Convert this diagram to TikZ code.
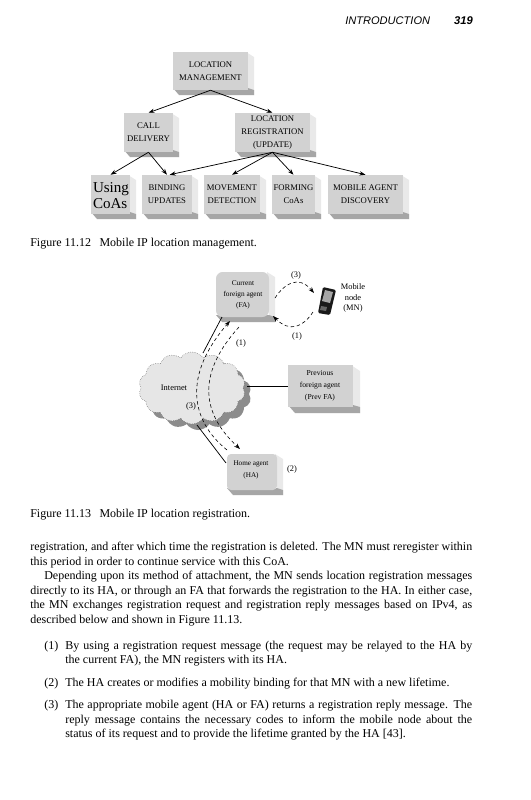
\documentclass[tikz,border=0pt]{standalone}
\usepackage{fontspec}
\setmainfont{Liberation Serif}
\setsansfont{Liberation Sans}
\usetikzlibrary{shapes.symbols,arrows.meta}
\definecolor{face}{HTML}{D2D2D2}
\definecolor{lit}{HTML}{E9E9E9}
\definecolor{dim}{HTML}{A6A6A6}
\definecolor{cloudfill}{HTML}{E6E6E6}
\definecolor{cloudshade}{HTML}{8C8C8C}
\tikzset{
 boxlabel/.style={align=center,font=\fontsize{6.5}{9.5}\selectfont,inner sep=0pt},
 facebox/.style={fill=face,draw=none,inner sep=0pt,boxlabel},
 conn/.style={line width=0.55pt,-{Stealth[length=4.5pt,width=3.2pt]}},
 plainline/.style={line width=0.55pt},
 dashconn/.style={line width=0.45pt,dash pattern=on 2.6pt off 2pt,-{Stealth[length=4.5pt,width=3.2pt]}},
 bodyline/.style={anchor=base west,inner sep=0pt,font=\fontsize{9}{10}\selectfont},
 smalllabel/.style={inner sep=0pt,font=\fontsize{6.3}{7.6}\selectfont,align=center},
}
% name, x1, y1, x2, y2, dx, dy, radius, text
\newcommand{\threeD}[9]{%
 \fill[lit] (#4-2,#3) -- (#4+#6,#3+#7) -- (#4+#6,#5+#7) -- (#4,#5) -- cycle;
 \fill[dim] (#2,#5-2) -- (#4,#5-2) -- (#4+#6,#5) -- (#4+#6,#5+#7) -- (#2+#6,#5+#7) -- cycle;
 \pgfmathsetmacro\bw{(#4-#2)*0.75}\pgfmathsetmacro\bh{(#5-#3)*0.75}
 \node[facebox,rounded corners=#8,minimum width=\bw pt,minimum height=\bh pt] (#1) at ({(#2+#4)/2},{(#3+#5)/2}) {#9};
}
\newcommand{\just}[5]{\node[bodyline] (#1) at (#2,#3) {\makebox[#4][s]{#5}};}
\newcommand{\free}[4]{\node[bodyline] (#1) at (#2,#3) {#4};}
\begin{document}
\begin{tikzpicture}[x=0.75pt,y=-0.75pt]
\useasboundingbox (0,0) rectangle (531,800);
\fill[white] (0,0) rectangle (531,800);
% header
\node[anchor=base west,inner sep=0pt,font=\sffamily\itshape\fontsize{8.3}{10}\selectfont] (hd) at (345,24) {INTRODUCTION};
\node[anchor=base east,inner sep=0pt,font=\sffamily\itshape\bfseries\fontsize{8.4}{10}\selectfont] (pg) at (473,24) {319};
% Figure 11.12
\threeD{lm}{173}{52}{248}{90}{6}{5}{0pt}{LOCATION\\MANAGEMENT}
\threeD{cd}{124}{113}{173}{152}{6}{5}{0pt}{CALL\\DELIVERY}
\threeD{lr}{235}{113}{310}{152}{6}{5}{0pt}{LOCATION\\REGISTRATION\\(UPDATE)}
\threeD{us}{91}{175}{130}{214}{6}{5}{0pt}{}
\threeD{bu}{142}{175}{192}{214}{6}{5}{0pt}{BINDING\\UPDATES}
\threeD{md}{204}{175}{260}{214}{6}{5}{0pt}{MOVEMENT\\DETECTION}
\threeD{fc}{272}{175}{315}{214}{6}{5}{0pt}{FORMING\\CoAs}
\threeD{ma}{328}{175}{403}{214}{6}{5}{0pt}{MOBILE AGENT\\DISCOVERY}
\node[inner sep=0pt,align=left,font=\fontsize{11.3}{11.6}\selectfont] (ust) at (111,195.5) {Using\\CoAs};
\draw[conn] (lm.south) -- (cd.north);
\draw[conn] (lm.south) -- (lr.north);
\draw[conn] (cd.south) -- (us.north);
\draw[conn] (cd.south) -- (bu.north);
\draw[conn] (lr.south) -- ([xshift=2pt]bu.north);
\draw[conn] (lr.south) -- (md.north);
\draw[conn] (lr.south) -- (fc.north);
\draw[conn] (lr.south) -- (ma.north);
\free{capa}{30}{246}{Figure 11.12\hspace{0.7em}Mobile IP location management.}
% Figure 11.13 boxes
\threeD{fa}{216}{272}{269}{317}{6}{5}{5pt}{}
\threeD{pf}{288}{365}{353}{407}{7}{6}{0pt}{}
\threeD{ha}{227}{454}{277}{490}{6}{5}{3pt}{}
\node[smalllabel,font=\fontsize{5.5}{8.2}\selectfont] (fat) at (243,295) {Current\\foreign agent\\(FA)};
\node[smalllabel,font=\fontsize{5.7}{9}\selectfont] (pft) at (320,386) {Previous\\foreign agent\\(Prev FA)};
\node[smalllabel,font=\fontsize{5.4}{8.4}\selectfont] (hat) at (251,470) {Home agent\\(HA)};
% cloud
\node[cloud,cloud puffs=14,cloud puff arc=110,aspect=1.5,fill=cloudshade,draw=none,minimum width=80pt,minimum height=54pt,inner sep=0pt] (cs) at (198,394) {};
\node[cloud,cloud puffs=14,cloud puff arc=110,aspect=1.5,fill=cloudfill,draw=black!70,line width=0.35pt,densely dotted,minimum width=80pt,minimum height=54pt,inner sep=0pt] (cl) at (192,388) {};
\node[smalllabel] (inet) at (174,388) {Internet};
% solid links
\coordinate (faL) at (222,317);
\coordinate (clT) at (203,353);
\coordinate (clB) at (197,425);
\coordinate (haL) at (226,463);
\coordinate (clR) at (247,386);
\draw[plainline] (faL) -- (clT);
\draw[plainline] (clB) -- (haL);
\draw[plainline] (clR) -- (pf.west);
% dashed through cloud
\coordinate (d1a) at (227,450);
\coordinate (d1b) at (230,321);
\coordinate (d2a) at (239,327);
\coordinate (d2b) at (240,449);
\draw[dashconn] (d1a) .. controls (190,420) and (183,375) .. (d1b);
\draw[dashconn] (d2a) .. controls (200,370) and (198,410) .. (d2b);
% phone
\fill[black!90,rounded corners=1pt] (323,287) -- (336,290) -- (330,315) -- (318,313) -- cycle;
\fill[black!35] (325,290) -- (333,292) -- (330,303) -- (322,301) -- cycle;
\fill[black!60] (321,306) -- (327,307) -- (326,311) -- (320,310) -- cycle;
\coordinate (mnIn) at (314,293);
\coordinate (mnOut) at (313,312);
\coordinate (faR) at (275,298);
\coordinate (faRb) at (273,316);
\draw[dashconn] (faR) .. controls (283,285) and (298,274) .. (mnIn);
\draw[dashconn] (mnOut) .. controls (303,327) and (290,333) .. (faRb);
\node[smalllabel] (l3a) at (296,275) {(3)};
\node[smalllabel] (l1a) at (297,336) {(1)};
\node[smalllabel] (l1b) at (241,343) {(1)};
\node[smalllabel] (l3b) at (191,406) {(3)};
\node[smalllabel] (l2) at (292,469) {(2)};
\node[smalllabel,font=\fontsize{6.3}{7.6}\selectfont] (mn) at (353,298) {Mobile\\node\\(MN)};
\free{capb}{30}{517}{Figure 11.13\hspace{0.7em}Mobile IP location registration.}
% body
\just{b1}{30}{550}{331.5pt}{registration, and after which time the registration is deleted. The MN must reregister within}
\free{b2}{30}{565}{this period in order to continue service with this CoA.}
\just{b3}{44}{579.5}{321pt}{Depending upon its method of attachment, the MN sends location registration messages}
\just{b4}{30}{594}{331.5pt}{directly to its HA, or through an FA that forwards the registration to the HA. In either case,}
\just{b5}{30}{608.5}{331.5pt}{the MN exchanges registration request and registration reply messages based on IPv4, as}
\free{b6}{30}{623}{described below and shown in Figure 11.13.}
\free{n1}{44}{649}{(1)}
\just{t1}{65}{649}{305.25pt}{By using a registration request message (the request may be relayed to the HA by}
\free{t1b}{65}{663.5}{the current FA), the MN registers with its HA.}
\free{n2}{44}{686}{(2)}
\free{t2}{65}{686}{The HA creates or modifies a mobility binding for that MN with a new lifetime.}
\free{n3}{44}{708.5}{(3)}
\just{t3}{65}{708.5}{305.25pt}{The appropriate mobile agent (HA or FA) returns a registration reply message. The}
\just{t3b}{65}{723}{305.25pt}{reply message contains the necessary codes to inform the mobile node about the}
\free{t3c}{65}{737.5}{status of its request and to provide the lifetime granted by the HA [43].}
\end{tikzpicture}
\end{document}
